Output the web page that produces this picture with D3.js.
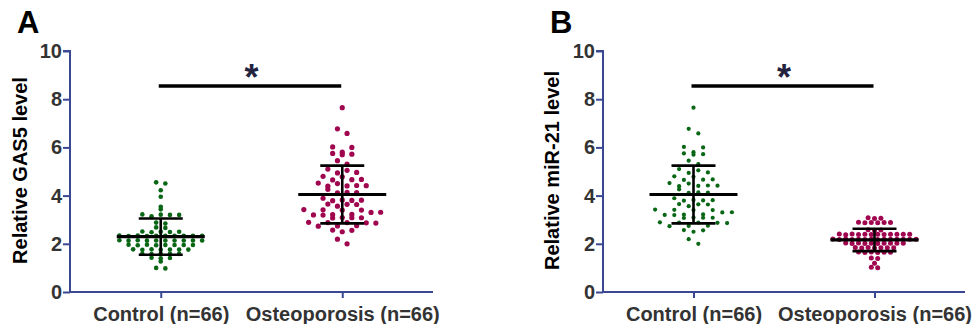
<!DOCTYPE html>
<html>
<head>
<meta charset="utf-8">
<script src="https://cdn.jsdelivr.net/npm/d3@7"></script>
<style>
  body { margin: 0; background: #fff; }
  svg { display: block; }
  text { font-family: Arial, "Liberation Sans", sans-serif; font-weight: bold; }
</style>
</head>
<body>
<svg id="chart" width="972" height="324"></svg>
<script>
const groups = ["Control (n=66)", "Osteoporosis (n=66)"];
const yTicks = [0, 2, 4, 6, 8, 10];

// relative GAS5 level, panel A
const gas5Control = [4.55, 4.50, 4.22, 3.95, 3.54, 3.43,
  3.22, 3.21, 3.20, 3.20, 3.14,
  2.88, 2.84, 2.68, 2.66,
  2.51, 2.50, 2.50, 2.49, 2.48,
  2.34, 2.34, 2.33, 2.33, 2.33, 2.33, 2.33, 2.32, 2.32, 2.33,
  2.15, 2.15, 2.14, 2.14, 2.14, 2.14, 2.14, 2.13, 2.13, 2.14,
  1.96, 1.96, 1.95, 1.95, 1.95, 1.95, 1.94, 1.94,
  1.77, 1.77, 1.76, 1.76, 1.76, 1.75, 1.75,
  1.59, 1.58, 1.58, 1.58, 1.57,
  1.42, 1.41, 1.40, 1.27, 1.00, 0.98];
const gas5Osteo = [7.65, 6.77, 6.58, 6.02, 6.00, 5.80, 5.75, 5.72, 5.70, 5.45,
  5.31, 5.10, 5.05, 4.96, 4.94, 4.80, 4.78, 4.67, 4.66, 4.65,
  4.52, 4.50, 4.42, 4.41, 4.40, 4.39, 4.26, 4.13, 4.12, 4.11,
  3.89, 3.82, 3.81, 3.80, 3.79, 3.65, 3.64, 3.63, 3.56, 3.42,
  3.41, 3.40, 3.40, 3.31, 3.30, 3.22, 3.21, 3.20, 3.19, 3.09,
  3.08, 3.08, 3.07, 2.89, 2.88, 2.88, 2.87, 2.86, 2.75, 2.74,
  2.73, 2.57, 2.56, 2.50, 2.19, 2.00];

// relative miR-21 level, panel B
const mir21Control = [7.65, 6.77, 6.58, 6.02, 6.00, 5.80, 5.75, 5.72, 5.70, 5.45,
  5.31, 5.10, 5.05, 4.96, 4.94, 4.80, 4.78, 4.67, 4.66, 4.65,
  4.52, 4.50, 4.42, 4.41, 4.40, 4.39, 4.26, 4.13, 4.12, 4.11,
  3.89, 3.82, 3.81, 3.80, 3.79, 3.65, 3.64, 3.63, 3.56, 3.42,
  3.41, 3.40, 3.40, 3.31, 3.30, 3.22, 3.21, 3.20, 3.19, 3.09,
  3.08, 3.08, 3.07, 2.89, 2.88, 2.88, 2.87, 2.86, 2.75, 2.74,
  2.73, 2.57, 2.56, 2.50, 2.19, 2.00];
const mir21Osteo = [3.08, 3.06, 3.05,
  2.89, 2.88, 2.88, 2.88, 2.87, 2.87,
  2.58, 2.57, 2.56,
  2.41, 2.41, 2.40, 2.40, 2.40, 2.40, 2.40, 2.40, 2.39, 2.39, 2.39, 2.38,
  2.20, 2.20, 2.19, 2.19, 2.19, 2.19, 2.19, 2.19, 2.19, 2.19, 2.18, 2.18, 2.18, 2.18,
  2.03, 2.03, 2.02, 2.02, 2.02, 2.02, 2.02, 2.01, 2.01, 2.01,
  1.85, 1.85, 1.84, 1.84, 1.84, 1.83, 1.83,
  1.66, 1.66, 1.65, 1.65, 1.64, 1.64,
  1.41, 1.39, 1.19, 1.03, 1.01];

const green = "#086614", crimson = "#a0064f", axisColor = "#3a4894", labelColor = "#333";

const panels = [
  { letter: "A", title: "Relative GAS5 level", left: 70, right: 433, titleX: 20,
    series: [gas5Control, gas5Osteo], colors: [green, crimson],
    r: [2.3, 2.6], dx: [9.2, 9.6], tol: [2.5, 5.5] },
  { letter: "B", title: "Relative miR-21 level", left: 603, right: 965, titleX: 552,
    series: [mir21Control, mir21Osteo], colors: [green, crimson],
    r: [2.1, 2.5], dx: [9.6, 6.4], tol: [5.5, 2.5] }
];

const svg = d3.select("#chart");
const plotTop = 51, plotBottom = 292;

// points within `tol` px of the top of a row share that row and are spread sideways,
// alternating higher and lower ones so the row zig-zags like the original
function swarm(values, y, tol, dx) {
  const sorted = values.slice().sort(d3.descending);
  const rows = [];
  let row = null;
  for (const v of sorted) {
    if (row && y(v) - y(row[0]) <= tol) row.push(v);
    else rows.push(row = [v]);
  }
  const out = [];
  rows.forEach(r => {
    const n = r.length;
    for (let k = 0; k < n; k++) {
      const v = k % 2 === 0 ? r[k / 2] : r[n - 1 - (k - 1) / 2];
      out.push({ v, off: (k - (n - 1) / 2) * dx });
    }
  });
  return out;
}

panels.forEach(p => {
  const g = svg.append("g");
  const y = d3.scaleLinear().domain([0, 10]).range([plotBottom, plotTop]);
  const x = d3.scalePoint().domain(groups).range([p.left, p.right]).padding(0.5);

  // dots
  p.series.forEach((vals, gi) => {
    const cx = x(groups[gi]);
    g.append("g").selectAll("circle")
      .data(swarm(vals, y, p.tol[gi], p.dx[gi]))
      .join("circle")
      .attr("cx", d => cx + d.off)
      .attr("cy", d => y(d.v))
      .attr("r", p.r[gi])
      .attr("fill", p.colors[gi]);
  });

  // mean and SD
  p.series.forEach((vals, gi) => {
    const cx = x(groups[gi]);
    const m = d3.mean(vals), sd = d3.deviation(vals);
    const lines = [
      [cx - 44, y(m), cx + 44, y(m), 3.2],
      [cx, y(m - sd), cx, y(m + sd), 2.6],
      [cx - 22, y(m + sd), cx + 22, y(m + sd), 2.6],
      [cx - 22, y(m - sd), cx + 22, y(m - sd), 2.6]
    ];
    g.append("g").selectAll("line").data(lines).join("line")
      .attr("x1", d => d[0]).attr("y1", d => d[1])
      .attr("x2", d => d[2]).attr("y2", d => d[3])
      .attr("stroke", "#000").attr("stroke-width", d => d[4]);
  });

  // axes
  const yAxis = g.append("g")
    .attr("transform", `translate(${p.left},0)`)
    .call(d3.axisLeft(y).tickValues(yTicks).tickSize(7).tickPadding(1));
  const xAxis = g.append("g")
    .attr("transform", `translate(0,${plotBottom})`)
    .call(d3.axisBottom(x).tickSize(6).tickPadding(9));
  [yAxis, xAxis].forEach(a => {
    a.select(".domain").attr("stroke", axisColor).attr("stroke-width", 2);
    a.selectAll(".tick line").attr("stroke", axisColor).attr("stroke-width", 2);
    a.selectAll(".tick text").attr("fill", labelColor).style("font-size", "20px");
  });
  yAxis.select(".domain").attr("d", `M-7,${plotTop}H0V${plotBottom + 1}`);
  xAxis.select(".domain").attr("d", `M${p.left},0H${p.right}V0`);
  xAxis.selectAll(".tick text").attr("dy", "0.71em");

  // axis title
  g.append("text")
    .attr("transform", `translate(${p.titleX},${(plotTop + plotBottom) / 2 - 1}) rotate(-90)`)
    .attr("text-anchor", "middle")
    .attr("dy", "0.35em")
    .style("font-size", "20px")
    .attr("fill", "#000")
    .text(p.title);

  // panel letter
  g.append("text")
    .attr("x", p.left - 53)
    .attr("y", 33)
    .style("font-size", "31px")
    .attr("fill", "#000")
    .text(p.letter);

  // significance
  const x0 = x(groups[0]), x1 = x(groups[1]);
  g.append("line")
    .attr("x1", x0 - 2).attr("x2", x1 - 1)
    .attr("y1", y(8.55)).attr("y2", y(8.55))
    .attr("stroke", "#000").attr("stroke-width", 3.5);
  g.append("text")
    .attr("x", (x0 + x1) / 2)
    .attr("y", y(8.55) + 4)
    .attr("text-anchor", "middle")
    .style("font-size", "36px")
    .attr("fill", "#23233f")
    .text("*");
});
</script>
</body>
</html>
